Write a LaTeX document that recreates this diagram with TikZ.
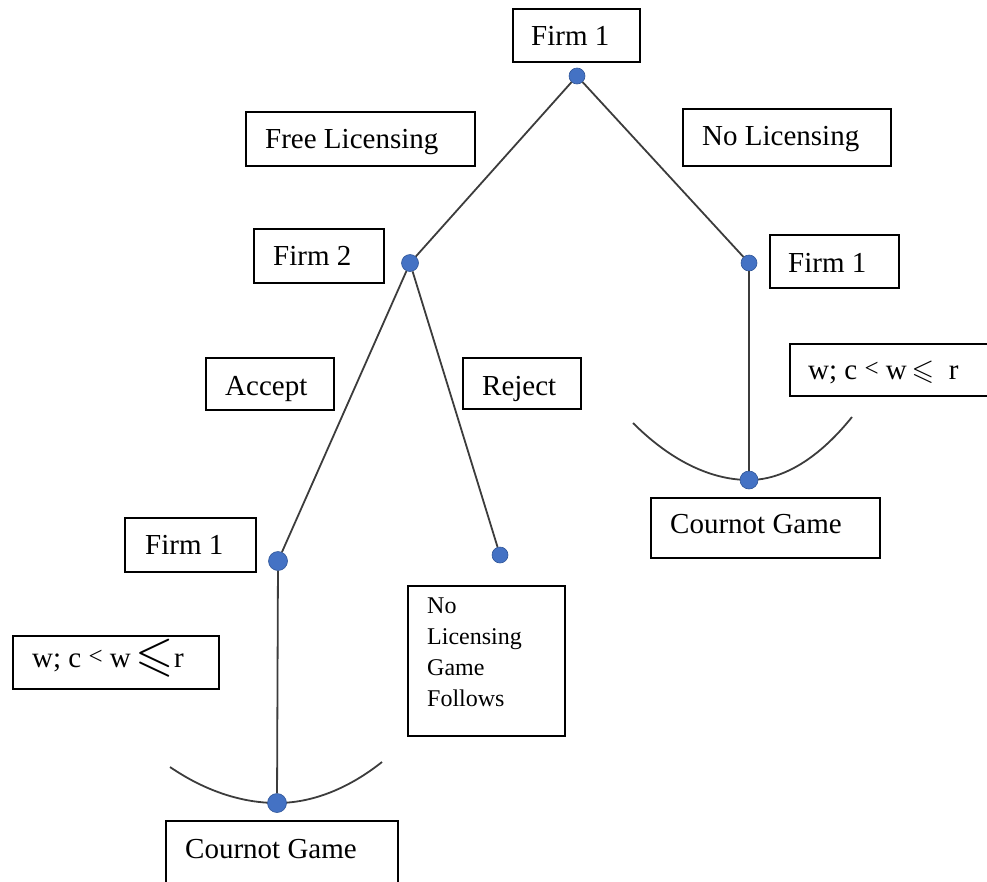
\documentclass[tikz,border=0pt]{standalone}
\usepackage{fontspec}
\usepackage{amssymb}
\setmainfont{Liberation Serif}
\definecolor{dotblue}{HTML}{4472C4}
\definecolor{dotedge}{HTML}{2F5597}
\definecolor{edgegray}{HTML}{3C3C3C}
\begin{document}
\begin{tikzpicture}[x=1pt,y=-1pt,
  box/.style={draw=black, line width=1.8pt, anchor=north west, inner sep=0pt},
  txt/.style={anchor=base west, inner sep=0pt, font=\fontsize{29}{35}\selectfont},
  smalltxt/.style={anchor=north west, inner sep=0pt, font=\fontsize{24}{31}\selectfont, align=left},
  gamedot/.style={circle, fill=dotblue, draw=dotedge, line width=0.6pt, inner sep=0pt, minimum size=#1},
  gamedot/.default=16pt,
  branch/.style={draw=edgegray, line width=1.8pt},
  payarc/.style={draw=edgegray, line width=1.8pt}
]
\useasboundingbox (0,0) rectangle (987,881);

% payoff arcs (drawn first, under the dots)
\coordinate (arcRa) at (633,423);
\coordinate (arcRb) at (852,417);
\coordinate (arcLa) at (170,767);
\coordinate (arcLb) at (382,762);
\draw[payarc] (arcRa) parabola bend (749,480) (arcRb);
\draw[payarc] (arcLa) parabola bend (277,803) (arcLb);

% decision nodes
\node[gamedot] (d0) at (577,76) {};
\node[gamedot=17pt] (d2) at (410,263) {};
\node[gamedot] (d1) at (749,263) {};
\node[gamedot=19pt] (d3) at (278,561) {};
\node[gamedot] (d4) at (500,555) {};
\node[gamedot=18pt] (d5) at (749,480) {};
\node[gamedot=19pt] (d6) at (277,803) {};

% branches
\draw[branch] (d0) -- (d2);
\draw[branch] (d0) -- (d1);
\draw[branch] (d2) -- (d3);
\draw[branch] (d2) -- (d4);
\draw[branch] (d1) -- (d5);
\draw[branch] (d3) -- (d6);

% boxes
\node[box, minimum width=127pt, minimum height=53pt] (bF1top) at (512,8) {};
\node[box, minimum width=229pt, minimum height=54pt] (bFL) at (245,111) {};
\node[box, minimum width=208pt, minimum height=57pt] (bNL) at (682,108) {};
\node[box, minimum width=130pt, minimum height=54pt] (bF2) at (253,228) {};
\node[box, minimum width=129pt, minimum height=53pt] (bF1r) at (769,234) {};
\node[box, minimum width=128pt, minimum height=52pt] (bAcc) at (205,357) {};
\node[box, minimum width=118pt, minimum height=51pt] (bRej) at (462,357) {};
\node[box, minimum width=131pt, minimum height=54pt] (bF1l) at (124,517) {};
\node[box, minimum width=202pt, minimum height=52pt] (bWr) at (789,343) {};
\node[box, minimum width=206pt, minimum height=53pt] (bWl) at (12,635) {};
\node[box, minimum width=157pt, minimum height=150pt] (bNLG) at (407,585) {};
\node[box, minimum width=229pt, minimum height=60pt] (bCr) at (650,497) {};
\node[box, minimum width=232pt, minimum height=64pt] (bCl) at (165,820) {};

% texts
\node[txt] (tF1top) at (531,45) {Firm 1};
\node[txt] (tFL) at (265,148) {Free Licensing};
\node[txt] (tNL) at (702,145) {No Licensing};
\node[txt] (tF2) at (273,265) {Firm 2};
\node[txt] (tF1r) at (788,272) {Firm 1};
\node[txt] (tAcc) at (225,395) {Accept};
\node[txt] (tRej) at (482,395) {Reject};
\node[txt] (tF1l) at (145,554) {Firm 1};
\node[txt] (tWr) at (808,379) {w; c \raisebox{3pt}{\fontsize{25}{25}\selectfont <} w\,$\leqslant$\ \ r};
\node[txt] (tWl) at (32,667) {w; c \raisebox{3pt}{\fontsize{25}{25}\selectfont <} w\,\raisebox{-3pt}{\scalebox{1.7}{$\leqslant$}}r};
\node[smalltxt] (tNLG) at (427,598) {No\\Licensing\\Game\\Follows};
\node[txt] (tCr) at (670,533) {Cournot Game};
\node[txt] (tCl) at (185,858) {Cournot Game};
\end{tikzpicture}
\end{document}
